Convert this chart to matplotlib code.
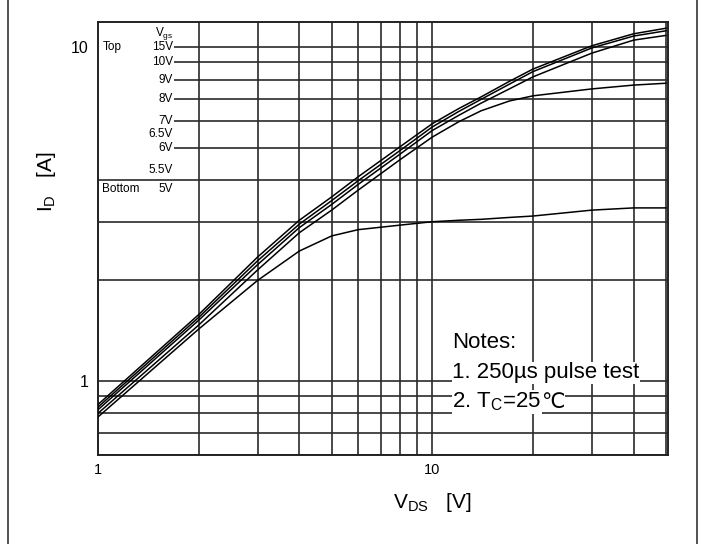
import matplotlib
matplotlib.use("Agg")
import matplotlib.pyplot as plt
from matplotlib.patches import Rectangle
from matplotlib.ticker import NullFormatter, FixedLocator

plt.rcParams['font.family'] = ['Liberation Sans', 'DejaVu Sans']
plt.rcParams['mathtext.fontset'] = 'custom'
plt.rcParams['mathtext.rm'] = 'Liberation Sans'

# Drain-source voltage sample points [V]
vds = [1, 2, 3, 4, 5, 6, 8, 10, 12, 14, 17, 20, 30, 40, 50]

# Drain current [A], one list per visible curve
id_15v = [0.85, 1.58, 2.35, 3.03, 3.56, 4.09, 5.03, 5.90, 6.55, 7.10, 7.90, 8.60, 10.10, 10.97, 11.40]
id_10v = [0.835, 1.55, 2.29, 2.95, 3.47, 3.98, 4.90, 5.77, 6.42, 6.98, 7.75, 8.45, 9.95, 10.80, 11.20]
id_9v = [0.82, 1.52, 2.23, 2.88, 3.38, 3.88, 4.78, 5.63, 6.25, 6.80, 7.50, 8.15, 9.60, 10.50, 10.85]
id_5v5 = [0.80, 1.47, 2.15, 2.78, 3.25, 3.73, 4.60, 5.38, 5.98, 6.45, 6.90, 7.15, 7.50, 7.70, 7.80]
id_5v = [0.78, 1.43, 2.00, 2.45, 2.72, 2.84, 2.93, 3.00, 3.03, 3.05, 3.09, 3.12, 3.25, 3.30, 3.30]

# Vgs legend (text labels and the current level they sit at)
vgs_labels = ['15V', '10V', '9V', '8V', '7V', '6.5V', '6V', '5.5V', '5V']
vgs_label_y = [10, 9, 8, 7, 6, 5.5, 5, 4.3, 3.76]

notes = ['Notes:', '1. 250\u00b5s pulse test', '2. $\\mathregular{T_C}$=25']
degc = '\u2103'

fig = plt.figure(figsize=(7.02, 5.44), dpi=100)
ax = fig.add_axes([98 / 702, 1 - 455 / 544, 570 / 702, 433 / 544])

ax.set_xscale('log')
ax.set_yscale('log')
ax.set_xlim(1, 50.7)
ax.set_ylim(0.6, 11.9)

for cur in [id_15v, id_10v, id_9v, id_5v5, id_5v]:
    ax.plot(vds, cur, color='black', lw=1.1, zorder=3)

ax.xaxis.set_major_locator(FixedLocator([1, 10]))
ax.yaxis.set_major_locator(FixedLocator([1, 10]))
ax.xaxis.set_minor_formatter(NullFormatter())
ax.yaxis.set_minor_formatter(NullFormatter())
ax.set_xticklabels(['1', '10'])
ax.set_yticklabels(['1', '10'])
ax.tick_params(which='both', length=0)
ax.tick_params(axis='x', labelsize=10.5, pad=6)
ax.tick_params(axis='y', labelsize=11.5, pad=7)
ax.set_axisbelow(True)
ax.grid(True, which='both', color='#2a2a2a', lw=1.2)
for sp in ax.spines.values():
    sp.set_linewidth(1.4)
    sp.set_color('#222222')

# white block behind the Vgs legend
ax.add_patch(Rectangle((1, 4.1), 0.68, 8, facecolor='white', edgecolor='none', zorder=1))
ax.text(1.675, 11.0, '$\\mathregular{V_{gs}}$', ha='right', va='center', fontsize=8.5)
ax.text(1.03, 10, 'Top', ha='left', va='center', fontsize=8.5)
ax.text(1.03, vgs_label_y[-1], 'Bottom', ha='left', va='center', fontsize=8.5)
for lab, yv in zip(vgs_labels, vgs_label_y):
    ax.text(1.675, yv, lab, ha='right', va='center', fontsize=8.5,
            bbox=dict(facecolor='white', edgecolor='none', pad=0.5))

note_y = [1.30, 1.057, 0.865]
last = None
for txt, yv in zip(notes, note_y):
    last = ax.text(11.45, yv, txt, ha='left', va='center', fontsize=16,
                   bbox=dict(facecolor='white', edgecolor='none', pad=0.3), zorder=4)
ax.annotate(degc, xy=(1, 0.5), xycoords=last, ha='left', va='center',
            fontsize=15, family=['DejaVu Sans'], zorder=4,
            bbox=dict(facecolor='white', edgecolor='none', pad=0.3))

ax.set_xlabel('$\\mathregular{V_{DS}}$   [V]', fontsize=15)
ax.xaxis.set_label_coords(0.586, -0.082)
ax.set_ylabel('$\\mathregular{I_D}$   [A]', fontsize=15, va='center')
ax.yaxis.set_label_coords(-0.09, 0.63)

# page frame lines
fig.add_artist(plt.Line2D([8 / 702, 8 / 702], [0, 1], color='#444444', lw=1.3))
fig.add_artist(plt.Line2D([697 / 702, 697 / 702], [0, 1], color='#444444', lw=1.3))

fig.savefig('out.png', dpi=100)
